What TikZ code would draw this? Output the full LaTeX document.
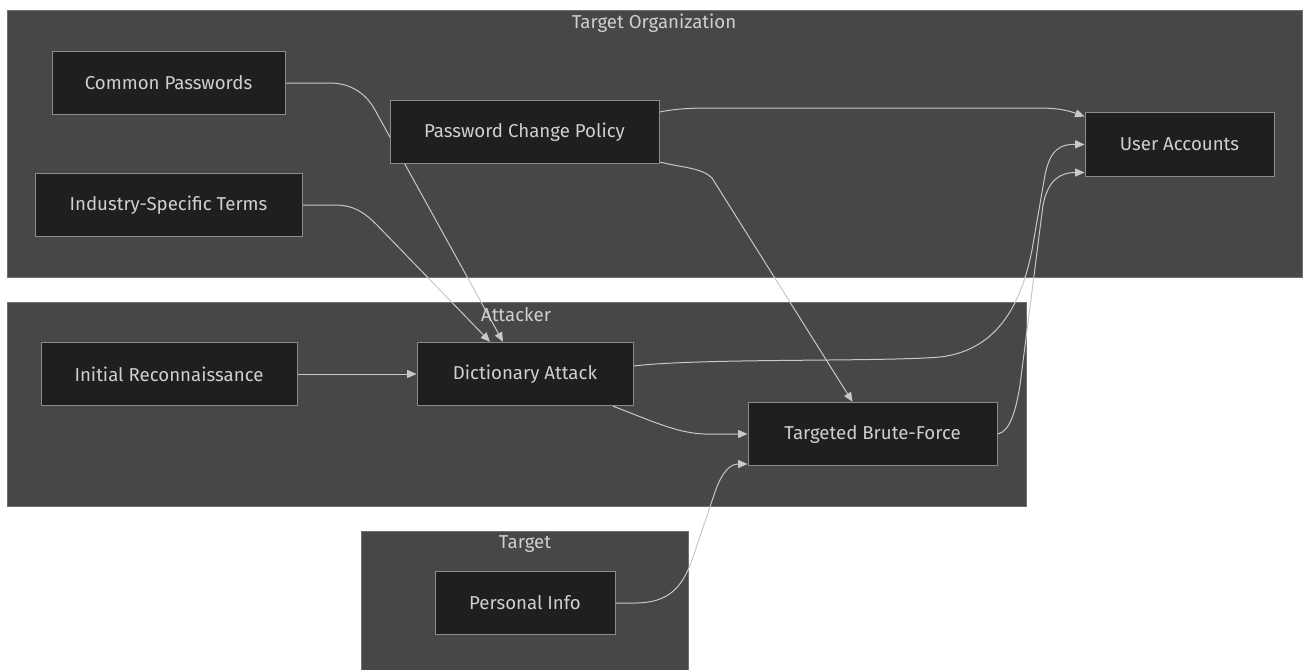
\documentclass[tikz,border=0pt]{standalone}
\usepackage{fontspec}
\setmainfont{Fira Sans}
\usetikzlibrary{arrows.meta,calc}
\definecolor{clusterbg}{HTML}{474747}
\definecolor{clusterline}{HTML}{707070}
\definecolor{nodebg}{HTML}{1F1F1F}
\definecolor{nodeline}{HTML}{8C8C8C}
\definecolor{labeltext}{HTML}{CFCFCF}
\definecolor{edgeline}{HTML}{C8C8C8}
\pgfdeclarelayer{back}
\pgfdeclarelayer{wires}
\pgfsetlayers{back,wires,main}
\tikzset{
  box/.style={draw=nodeline, line width=0.75pt, fill=nodebg, text=labeltext,
    minimum height=47.6pt, inner sep=0pt, font=\fontsize{14}{16}\selectfont},
  cluster/.style={draw=clusterline, line width=0.75pt, fill=clusterbg},
  title/.style={text=labeltext, inner sep=0pt, font=\fontsize{14}{16}\selectfont},
  wire/.style={draw=edgeline, line width=0.75pt, -{Triangle[length=7pt,width=6pt]}}
}
\begin{document}
\begin{tikzpicture}[x=0.75pt,y=-0.75pt]
\useasboundingbox (0,0) rectangle (1303,669);
% subgraphs
\begin{pgfonlayer}{back}
\draw[cluster] (7,10) rectangle (1302,277);
\draw[cluster] (7,302) rectangle (1026,506);
\draw[cluster] (361,531) rectangle (688,672);
\end{pgfonlayer}
\node[title] (orgtitle) at (654,23) {Target Organization};
\node[title] (atttitle) at (516,315) {Attacker};
\node[title] (tgttitle) at (525,544) {Target};
% boxes
\node[box, minimum width=233*0.75pt] (cp) at (168.5,83) {Common Passwords};
\node[box, minimum width=267*0.75pt] (ist) at (168.5,205) {Industry-Specific Terms};
\node[box, minimum width=269*0.75pt] (pcp) at (524.5,132) {Password Change Policy};
\node[box, minimum width=189*0.75pt] (ua) at (1179.5,144.5) {User Accounts};
\node[box, minimum width=256*0.75pt] (ir) at (169,374) {Initial Reconnaissance};
\node[box, minimum width=216*0.75pt] (da) at (525,374) {Dictionary Attack};
\node[box, minimum width=249*0.75pt] (tbf) at (872.5,434) {Targeted Brute-Force};
\node[box, minimum width=180*0.75pt] (pi) at (525,603) {Personal Info};
% links
\begin{pgfonlayer}{wires}
\draw[wire] (cp.east) -- (330,83) .. controls (352,83) and (367,95) .. (375,110) -- ($(da.north)+(-22,0)$);
\draw[wire] (ist.east) -- (335,205) .. controls (355,205) and (366,214) .. (377,225) -- ($(da.north)+(-35,0)$);
\draw[wire] (ir.east) -- (da.west);
\draw[wire] ($(da.east)+(0,-8)$) .. controls (700,358) and (880,362) .. (940,357)
  .. controls (1000,350) and (1022,300) .. (1032,250) -- (1045,175)
  .. controls (1050,150) and (1060,144) .. (ua.west);
\draw[wire] ($(da.south)+(88,0)$) .. controls (650,420) and (680,435) .. (710,434) -- (tbf.west);
\draw[wire] (pi.east) -- (635,603) .. controls (668,603) and (682,588) .. (692,560) -- (715,492)
  .. controls (722,472) and (730,464) .. ($(tbf.west)+(0,30)$);
\draw[wire] (tbf.east) .. controls (1010,432) and (1016,410) .. (1020,385) -- (1043,205)
  .. controls (1048,180) and (1060,172.5) .. ($(ua.west)+(0,28)$);
\draw[wire] ($(pcp.east)+(0,-20)$) .. controls (680,108) and (695,108) .. (720,108) -- (1040,108)
  .. controls (1062,108) and (1072,112) .. ($(ua.west)+(0,-28)$);
\draw[wire] ($(pcp.east)+(0,30)$) .. controls (685,168) and (702,168) .. (712,178) -- ($(tbf.north)+(-20,0)$);
\end{pgfonlayer}
\end{tikzpicture}
\end{document}
